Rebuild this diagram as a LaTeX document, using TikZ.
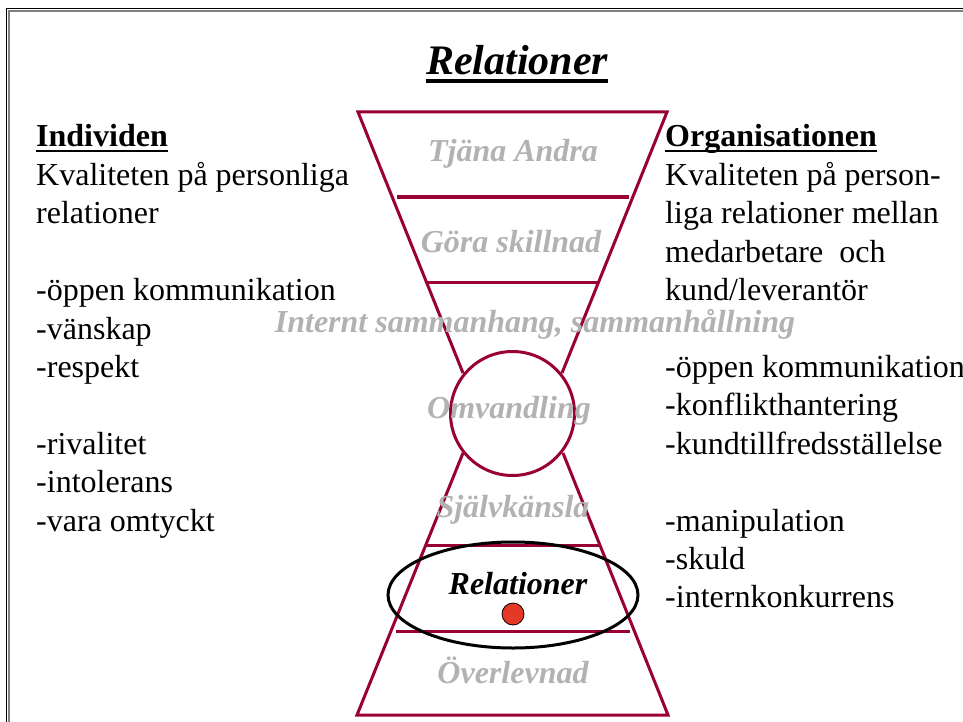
\documentclass[tikz,border=0pt]{standalone}
\usepackage{fontspec}
\setmainfont{Liberation Serif}
\usepackage{tikz}
\usetikzlibrary{calc}

\definecolor{funnel}{RGB}{153,0,51}
\definecolor{stage}{RGB}{178,178,178}
\definecolor{dot}{RGB}{229,57,40}

\begin{document}
\begin{tikzpicture}[
      x=1pt, y=-1pt,
      funnel line/.style={funnel,line width=3pt,line join=miter},
      ring/.style={funnel,line width=3pt},
      stage text/.style={stage,inner sep=0pt,anchor=base,font=\fontsize{32}{38}\selectfont\bfseries\itshape},
      body text/.style={inner sep=0pt,anchor=base west,font=\fontsize{32}{38}\selectfont},
      head text/.style={body text,font=\fontsize{32}{38}\selectfont\bfseries},
      head rule/.style={line width=2.7pt}
      ]
      \useasboundingbox (0,0) rectangle (963,722);
      % frame
      \draw [line width=1.2pt] (6.5,730) -- (6.5,8.5) -- (970,8.5);
      \draw [gray,line width=2.4pt] (9,730) -- (9,11) -- (970,11);
      % title
      \node [stage text,black,font=\fontsize{42}{50}\selectfont\bfseries\itshape] (title) at (517,75) {Relationer};
      \draw [head rule,line width=3.3pt] ([yshift=-6pt]title.base west) -- ([yshift=-6pt]title.base east);
      % upper funnel
      \draw [funnel line] (463,373) -- (358,112) -- (667,112) -- (562,373);
      \draw [funnel line] (397,197) -- (629,197);
      \draw [funnel line] (428,282) -- (599,282);
      % circle
      \draw [ring] (512.5,413.5) circle (62);
      % lower funnel
      \draw [funnel line] (463,453) -- (357,715) -- (668,715) -- (563,453);
      \draw [funnel line] (426,545) -- (599,545);
      \draw [funnel line] (396,631) -- (630,631);
      % stages
      \node [stage text] (tjana) at (513,162) {Tjäna Andra};
      \node [stage text] (gora) at (511,252) {Göra skillnad};
      \node [stage text] (internt) at (535,332) {Internt sammanhang, sammanhållning};
      \node [stage text] (omvandling) at (509,418) {Omvandling};
      \node [stage text] (sjalv) at (513,517) {Självkänsla};
      \node [stage text,black] (relationer) at (518,594) {Relationer};
      \node [stage text] (overlevnad) at (513,683) {Överlevnad};
      % ellipse and dot
      \draw [line width=3pt] (513,595) ellipse [x radius=125, y radius=53];
      \draw [fill=dot,line width=0.8pt] (513,614) circle (11);
      % individen
      \node [head text] (ind) at (36,147) {Individen};
      \draw [head rule] ([yshift=-4pt]ind.base west) -- ([yshift=-4pt]ind.base east);
      \foreach \k/\t in {1/Kvaliteten på personliga,2/relationer,4/-öppen kommunikation,5/-vänskap,
          6/-respekt,8/-rivalitet,9/-intolerans,10/-vara omtyckt} {
          \node [body text] (ind\k) at (36,147+38.4*\k) {\t};
      }
      % organisationen
      \node [head text] (org) at (665,147) {Organisationen};
      \draw [head rule] ([yshift=-4pt]org.base west) -- ([yshift=-4pt]org.base east);
      \foreach \k/\t in {1/Kvaliteten på person-,2/liga relationer mellan,3/medarbetare~ och,4/{kund/leverantör},
          6/-öppen kommunikation,7/-konflikthantering,8/-kundtillfredsställelse,10/-manipulation,
          11/-skuld,12/-internkonkurrens} {
          \node [body text] (org\k) at (665,147+38.4*\k) {\t};
      }
\end{tikzpicture}
\end{document}
